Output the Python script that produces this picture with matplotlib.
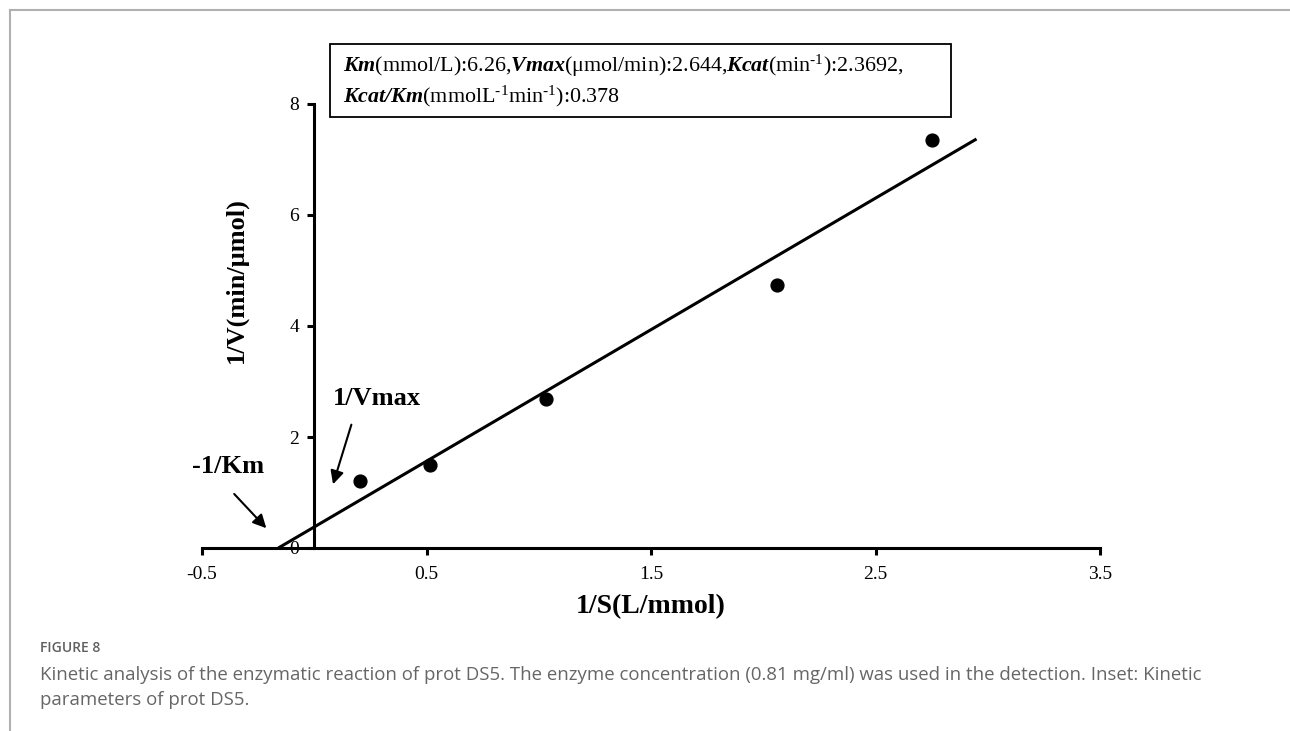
import matplotlib
matplotlib.use("Agg")
import matplotlib.pyplot as plt
from matplotlib.lines import Line2D
from matplotlib.patches import Rectangle

plt.rcParams["font.family"] = ["Liberation Serif", "DejaVu Serif"]
plt.rcParams["mathtext.fontset"] = "custom"
plt.rcParams["mathtext.rm"] = "Liberation Serif"
plt.rcParams["mathtext.it"] = "Liberation Serif:italic"
plt.rcParams["mathtext.bf"] = "Liberation Serif:bold"
if "mathtext.bfit" in plt.rcParams:
    plt.rcParams["mathtext.bfit"] = "Liberation Serif:italic:bold"

# Lineweaver-Burk data (1/S, 1/V)
inv_s = [0.205, 0.517, 1.033, 2.062, 2.753]
inv_v = [1.21, 1.50, 2.68, 4.74, 7.35]

# fitted line endpoints
fit_x = [-0.16, 2.95]
fit_y = [0.0, 7.37]

x_ticks = [-0.5, 0.5, 1.5, 2.5, 3.5]
y_ticks = [0, 2, 4, 6, 8]

sup = r"$^{\text{-1}}$"
inset_line1 = (r"$\mathbfit{Km}$(mmol/L):6.26,$\mathbfit{Vmax}$(" + "\u03bc" + "mol/min):2.644,"
               r"$\mathbfit{Kcat}$(min" + sup + "):2.3692,")
inset_line2 = r"$\mathbfit{Kcat/Km}$(mmolL" + sup + "min" + sup + "):0.378"

caption_title = "FIGURE 8"
caption_text = ("Kinetic analysis of the enzymatic reaction of prot DS5. The enzyme concentration "
                "(0.81 mg/ml) was used in the detection. Inset: Kinetic\nparameters of prot DS5.")

W, H = 1290, 731
fig = plt.figure(figsize=(W / 100, H / 100), dpi=100)

# axes: x=-0.5 at px 202, 3.5 at px 1100; y=0 at px 548, 8 at px 104
ax = fig.add_axes([202 / W, (H - 548) / H, 898 / W, 444 / H])
ax.set_xlim(-0.5, 3.5)
ax.set_ylim(0, 8)

ax.scatter(inv_s, inv_v, s=85, color="black", zorder=3, clip_on=False)
ax.plot(fit_x, fit_y, color="black", lw=2.2, clip_on=False, solid_capstyle="butt")

for side in ["top", "right"]:
    ax.spines[side].set_visible(False)
ax.spines["left"].set_position(("data", 0))
ax.spines["left"].set_linewidth(2.2)
ax.spines["bottom"].set_linewidth(2.2)

ax.set_xticks(x_ticks)
ax.set_xticklabels([f"{t:g}" for t in x_ticks])
ax.set_yticks(y_ticks)
ax.tick_params(axis="both", direction="out", width=2.2, length=5, labelsize=14)
ax.tick_params(axis="x", pad=8)
ax.tick_params(axis="y", pad=6)

ax.set_xlabel("1/S(L/mmol)", fontsize=20, fontweight="bold", labelpad=8)
fig.text(236 / W, 1 - 280 / H, "1/V(min/\u03bcmol)", fontsize=19, fontweight="bold",
         rotation=90, ha="center", va="center")

ax.annotate("", xy=(0.080, 1.10), xytext=(0.169, 2.27),
            arrowprops=dict(arrowstyle="-|>", color="black", lw=1.5, mutation_scale=20))
ax.annotate("", xy=(-0.205, 0.32), xytext=(-0.365, 1.01),
            arrowprops=dict(arrowstyle="-|>", color="black", lw=1.5, mutation_scale=20))
ax.text(0.28, 2.70, "1/Vmax", fontsize=19, fontweight="bold", ha="center", va="center")
ax.text(-0.383, 1.46, "-1/Km", fontsize=19, fontweight="bold", ha="center", va="center")

# inset box with kinetic parameters
fig.add_artist(Rectangle((330 / W, 1 - 117 / H), 621 / W, 73 / H, transform=fig.transFigure,
                         facecolor="white", edgecolor="black", lw=1.3))
fig.text(343 / W, 1 - 66 / H, inset_line1, fontsize=15.8, ha="left", va="center")
fig.text(343 / W, 1 - 96 / H, inset_line2, fontsize=15.8, ha="left", va="center")

# page frame lines
fig.add_artist(Line2D([10 / W, 1], [1 - 10 / H, 1 - 10 / H], color="#b0b0b0", lw=1.5))
fig.add_artist(Line2D([10 / W, 10 / W], [0, 1 - 10 / H], color="#b0b0b0", lw=1.5))

fig.text(40 / W, 1 - 648 / H, caption_title, fontsize=10, color="#5f5f5f",
         family="Open Sans", fontweight="semibold", va="center")
fig.text(40 / W, 1 - 687.5 / H, caption_text, fontsize=13.4, color="#666666",
         family="Open Sans", va="center", linespacing=1.45)

fig.savefig("out.png", dpi=100)
